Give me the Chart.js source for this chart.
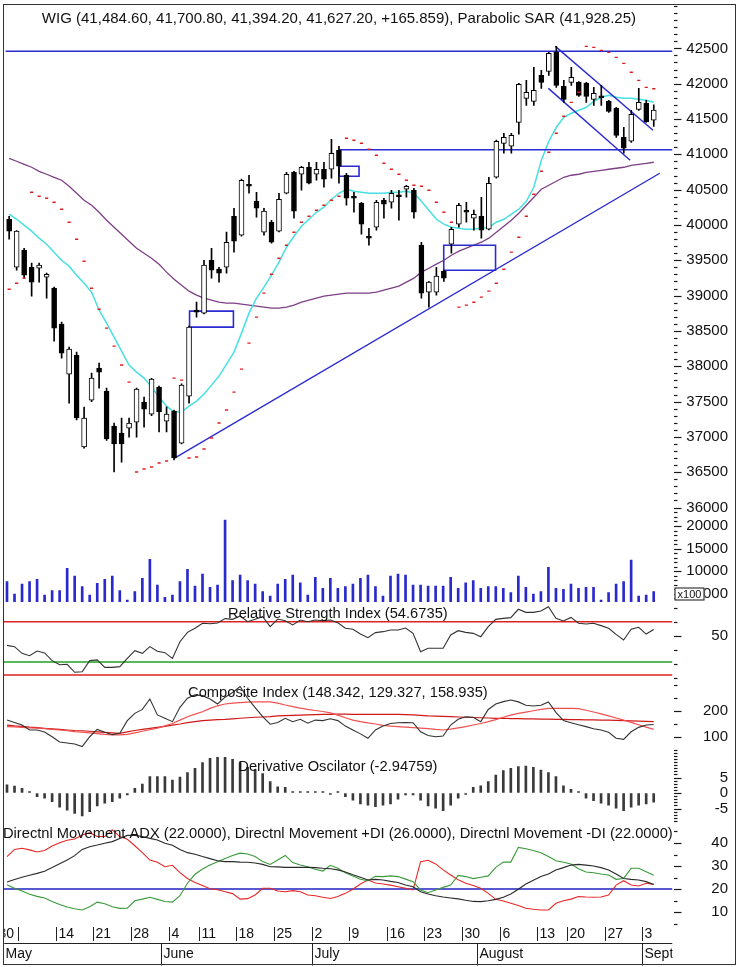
<!DOCTYPE html>
<html><head><meta charset="utf-8">
<script src="https://cdn.jsdelivr.net/npm/chart.js@4.4.1/dist/chart.umd.min.js"></script>
<style>
html,body{margin:0;padding:0;background:#fff;}
#wrap{position:relative;width:739px;height:967px;overflow:hidden;background:#fff;}
#wrap canvas{position:absolute;left:0;top:0;}
#frame{position:absolute;left:3px;top:4px;width:733px;height:961px;box-sizing:border-box;border:1px solid #333;pointer-events:none;}
</style></head><body>
<div id="wrap">
<canvas id="cPrice" width="739" height="967"></canvas>
<canvas id="cVol" width="739" height="967"></canvas>
<canvas id="cRsi" width="739" height="967"></canvas>
<canvas id="cComp" width="739" height="967"></canvas>
<canvas id="cDer" width="739" height="967"></canvas>
<canvas id="cAdx" width="739" height="967"></canvas>
<div id="frame"></div>
</div>
<script>
// ---------------- DATA ----------------
const dates = [
'2012-05-02','2012-05-04','2012-05-07','2012-05-08','2012-05-09','2012-05-10','2012-05-11',
'2012-05-14','2012-05-15','2012-05-16','2012-05-17','2012-05-18',
'2012-05-21','2012-05-22','2012-05-23','2012-05-24','2012-05-25',
'2012-05-28','2012-05-29','2012-05-30','2012-05-31','2012-06-01',
'2012-06-04','2012-06-05','2012-06-06','2012-06-08',
'2012-06-11','2012-06-12','2012-06-13','2012-06-14','2012-06-15',
'2012-06-18','2012-06-19','2012-06-20','2012-06-21','2012-06-22',
'2012-06-25','2012-06-26','2012-06-27','2012-06-28','2012-06-29',
'2012-07-02','2012-07-03','2012-07-04','2012-07-05','2012-07-06',
'2012-07-09','2012-07-10','2012-07-11','2012-07-12','2012-07-13',
'2012-07-16','2012-07-17','2012-07-18','2012-07-19','2012-07-20',
'2012-07-23','2012-07-24','2012-07-25','2012-07-26','2012-07-27',
'2012-07-30','2012-07-31','2012-08-01','2012-08-02','2012-08-03',
'2012-08-06','2012-08-07','2012-08-08','2012-08-09','2012-08-10',
'2012-08-13','2012-08-14','2012-08-16','2012-08-17',
'2012-08-20','2012-08-21','2012-08-22','2012-08-23','2012-08-24',
'2012-08-27','2012-08-28','2012-08-29','2012-08-30','2012-08-31',
'2012-09-03','2012-09-04'];

const openP = [40081,39402,39643,39402,39388,39261,39105,38596,37889,38158,
36857,37521,37974,37649,37153,37054,37125,37210,37493,37323,
37705,37224,37366,36913,37578,38794,38752,39501,39374,39402,
40124,39855,40576,40336,39898,40039,39912,40449,40746,40718,
40817,40718,40789,40789,41057,40704,40407,40308,39830,39968,
40350,40322,40420,40506,40492,39714,39049,39049,39346,39728,
40011,40190,40095,40124,39940,40675,41156,41114,41453,41793,
41750,42118,42175,42443,41963,42019,42019,42005,41779,41815,
41750,41651,41241,41185,41637,41722,41484.6];
const highP = [40124,39920,39671,39459,39459,39318,39120,38625,38271,38200,
37422,37903,38045,37690,37196,37267,37267,37690,37564,37830,
37720,37422,37380,37750,38570,38907,39501,39671,39402,39898,
40237,40650,40704,40463,40237,40067,40449,40746,40760,40830,
40888,40888,40888,41213,41114,40732,40463,40320,39954,40350,
40378,40492,40492,40562,40520,39756,39204,39400,39360,39968,
40308,40322,40210,40393,40675,41200,41298,41298,42005,42047,
42231,42189,42443,42528,42047,42231,42030,42019,41948,41977,
41765,41665,41383,41623,41934,41765,41700.8];
const lowP = [39798,39360,39247,38992,39190,38964,38356,38115,37479,37240,
36840,37500,37691,36950,36503,36644,36998,36998,37139,37300,
37069,37069,36673,36900,37479,38695,38740,39247,39190,39318,
39615,39840,40449,40110,39855,39742,39900,40440,40095,40492,
40580,40633,40534,40661,40591,40279,40180,39869,39714,39926,
40095,40237,40067,40393,40095,38964,38837,39006,39200,39600,
39968,40039,39926,39813,39930,40661,41015,41015,41284,41694,
41694,41934,42118,41948,41736,41977,41821,41736,41694,41694,
41595,41241,41015,41170,41623,41453,41394.2];
const closeP = [39912,39912,39289,39190,39431,39303,38540,38186,38243,37267,
37267,37832,37917,36970,36899,36899,37196,37677,37394,37818,
37352,37323,36701,37733,38554,38766,39431,39360,39318,39756,
39770,40633,40548,40237,40195,39756,40364,40718,40195,40817,
40591,40789,40647,41015,40831,40378,40378,40011,39813,40322,
40294,40449,40400,40548,40180,39035,39190,39275,39247,39940,
40279,40180,40152,39926,40591,41185,41241,41269,41991,41878,
41906,42019,42429,41977,41779,42090,41835,41821,41864,41800,
41609,41269,41086,41566,41736,41461,41627.2];

const parabolicSar = [39091,39176,39247,40463,40407,40378,40322,40223,40039,39798,
39487,39105,38808,38540,38285,38017,37776,36503,36546,36574,
36630,36659,37832,37804,36701,36715,36828,36984,37196,37380,
37634,37960,38328,38695,39035,39303,39530,39714,39898,40039,
40124,40209,40279,40350,40407,41227,41199,41156,41071,40987,
40874,40789,40718,40633,40562,40548,40492,40322,40180,40039,
38837,38865,38907,38978,39063,39176,39374,39615,39827,40124,
40435,40760,41029,41298,41538,41736,41878,42528,42514,42472,
42443,42373,42288,42161,42047,41948,41928.25];

const maShort = [40152,40081,39997,39912,39813,39728,39615,39501,39417,39289,
39176,39049,38794,38610,38412,38214,38016,37917,37832,37705,
37564,37436,37352,37352,37436,37507,37606,37733,37861,38030,
38200,38469,38752,38964,39120,39289,39473,39685,39841,39982,
40081,40180,40251,40364,40449,40506,40477,40463,40449,40449,
40449,40463,40463,40477,40449,40336,40209,40081,40011,39968,
39954,39940,39940,39954,39968,40039,40081,40152,40223,40336,
40534,40916,41185,41383,41524,41581,41623,41666,41750,41807,
41835,41807,41793,41793,41779,41765,41736];
const maLong = [40944,40902,40859,40817,40760,40718,40675,40633,40548,40449,
40350,40279,40180,40067,39968,39869,39770,39671,39600,39530,
39445,39332,39233,39148,39063,39006,38964,38936,38907,38893,
38893,38879,38865,38851,38837,38823,38823,38837,38865,38907,
38936,38964,38992,39006,39021,39035,39035,39035,39035,39049,
39077,39105,39134,39190,39247,39332,39388,39445,39501,39572,
39629,39671,39714,39756,39813,39898,39982,40067,40166,40279,
40393,40506,40562,40619,40675,40704,40718,40746,40760,40774,
40789,40803,40817,40845,40859,40873,40888];

// annotations (blue drawing tools), in index / price units
const resistanceLevel = 42460;
const supportLevel = 41065;
const supportStartIdx = 44;
const trendLineX = [22.07, 86.8];
const trendLineY = [36701, 40732];
const channelUpperX = [72.87, 85.9];
const channelUpperY = [42528, 41340];
const channelLowerX = [71.94, 82.85];
const channelLowerY = [41934, 40916];
const gapBoxX0 = [24.07, 44.02, 57.98];
const gapBoxX1 = [29.92, 46.68, 64.89];
const gapBoxLow = [38554, 40690, 39360];
const gapBoxHigh = [38780, 40831, 39714];

const volume = [7710,4990,7200,7710,8230,4770,5720,5720,10660,8960,
6600,4770,7350,8230,8960,5720,3660,5500,8450,12650,
6980,4260,4770,7710,10440,6750,9400,6460,6980,21320,
7930,9180,7930,7200,5500,4550,7200,8230,9180,7480,
4770,8670,6250,8450,6250,6600,7200,8450,9180,6600,
4550,8960,9400,9180,6980,6980,6750,6750,6750,8670,
6250,7480,7930,6250,6600,6600,6250,5280,8960,6460,
4990,5500,10880,6250,6020,7200,6250,6460,6460,3660,
5280,7200,7710,12490,4550,4770,5500];

const rsi = [43.3,42.4,37.6,35.9,39.3,37.9,32.4,29.5,29.8,24.1,
24.5,32.4,32.9,27.6,27.6,28.1,34.0,39.5,37.6,42.4,
39.1,38.1,34.0,45.9,52.6,55.5,59.1,58.8,59.3,62.4,
61.9,64.3,60.2,61.9,63.8,56.7,62.1,60.9,57.9,61.4,
60.2,61.4,60.9,61.4,59.5,55.5,54.8,51.4,48.8,52.4,
53.1,54.3,54.3,55.7,51.9,38.8,41.2,41.2,41.2,50.7,
53.8,52.6,51.9,49.5,56.7,61.9,62.6,63.1,69.1,66.9,
66.9,67.9,70.9,62.6,60.7,63.3,59.1,58.6,59.1,57.4,
55.5,51.2,47.1,54.8,56.2,51.4,54.6735];
const rsiUpper = 60.2;
const rsiMid = 31.4;
const rsiLower = 22.1;

const compositeIndex = [165,156,146,127,127,119,101,81,77,73,
63,101,129,118,109,114,163,191,206,246,
185,172,159,214,249,262,259,246,227,253,
271,294,249,213,178,149,156,172,159,168,
153,165,163,170,163,142,127,112,95,127,
142,152,155,156,155,120,106,101,104,146,
168,178,176,159,206,227,236,242,235,222,
219,222,235,195,163,155,147,140,132,127,
118,95,91,120,137,146,148.342];
const compositeMaFast = [140,139,137,135,134,132,129,127,124,121,
119,116,113,110,108,108,110,116,122,128,
134,143,152,165,178,188,197,210,220,227,
230,232,234,235,235,235,230,223,217,211,
206,202,198,193,184,174,165,159,154,150,
145,142,140,138,136,134,132,129,127,130,
135,140,146,152,159,167,176,184,191,196,
201,206,210,210,210,210,209,203,196,189,
181,173,165,156,147,138,129.327];
const compositeMaSlow = [146,143,141,138,136,133,131,129,127,125,
124,122,120,118,116,114,120,125,129,133,
137,141,146,150,155,159,163,165,167,168,
170,172,174,176,177,178,181,182,183,184,
185,186,187,187,188,188,187,187,187,187,
187,187,187,186,185,183,181,180,179,178,
177,176,175,174,173,172,172,171,171,170,
170,169,169,168,168,167,167,166,166,165,
165,164,163,162,161,160,158.935];

const derivativeOsc = [2.6,2.2,1.5,0.2,-1.2,-1.7,-2.8,-4.6,-5.5,-6.6,
-7.4,-6.0,-4.2,-3.3,-2.8,-1.7,-0.6,1.5,2.9,5.3,
5.3,5.3,4.2,5.1,6.6,8.0,9.8,11.2,11.5,11.5,
10.9,9.8,8.3,7.6,6.3,3.7,2.0,1.8,0.3,0.1,
0.2,0.1,0.1,-0.1,0.1,-1.2,-2.3,-3.5,-3.9,-4.4,
-3.9,-3.5,-2.0,-0.6,-0.6,-2.3,-4.2,-4.9,-5.7,-3.9,
-1.7,-0.1,1.8,2.3,3.7,5.8,7.2,8.0,8.5,8.7,
8.3,7.4,6.6,5.3,2.3,1.2,0.1,-1.7,-2.5,-3.3,
-3.9,-4.9,-5.7,-4.6,-3.9,-3.5,-2.94759];

const adx = [23.0,24.1,25.1,26.0,26.8,27.7,29.3,31.0,32.6,34.5,
37.2,38.4,39.1,39.9,40.6,42.0,43.3,43.3,42.8,42.0,
41.3,39.9,39.0,37.2,35.8,35.1,34.1,33.2,32.3,31.9,
31.9,31.7,31.6,31.3,30.7,29.7,29.6,29.4,29.4,29.4,
29.4,29.3,29.0,28.8,28.3,27.4,26.2,25.1,23.9,24.2,
23.9,23.3,22.8,21.7,21.0,18.8,17.8,17.1,16.5,16.1,
15.7,15.1,14.6,14.5,14.9,15.5,16.4,17.8,19.9,22.2,
23.8,25.4,26.5,28.3,29.3,30.4,30.7,30.4,30.0,29.3,
28.3,26.5,24.6,24.2,23.9,23.2,22.0];
const plusDI = [21.9,20.3,19.1,17.7,16.8,16.1,14.6,13.3,12.2,11.4,
10.9,12.3,14.3,13.6,12.3,11.6,11.7,14.9,15.6,16.4,
15.5,14.6,14.3,17.1,22.5,26.4,28.7,30.4,31.9,33.3,
34.6,35.6,35.2,34.1,31.9,30.7,32.6,34.6,31.5,30.4,
29.7,28.6,27.8,30.3,29.0,27.1,25.7,24.2,23.6,25.5,
25.4,25.7,25.4,24.3,23.2,19.6,18.4,19.6,20.7,21.7,
25.9,25.4,24.5,25.1,25.7,29.4,31.7,31.7,38.1,37.5,
36.7,35.8,34.1,32.3,31.6,30.9,28.8,27.4,27.1,26.5,
26.1,24.2,24.6,29.0,29.0,27.5,26.0];
const minusDI = [34.1,37.2,37.7,37.0,36.1,36.7,38.7,40.1,41.2,41.7,
43.5,44.5,42.8,42.8,45.7,42.8,41.6,38.8,35.8,32.6,
31.6,29.7,30.3,27.1,24.6,22.8,21.5,20.1,19.7,18.8,
18.0,15.6,15.8,17.4,20.3,20.3,19.1,18.8,19.3,18.8,
17.4,17.1,16.4,15.9,16.7,18.1,19.9,22.2,23.9,22.6,
22.2,21.7,21.0,20.3,19.6,31.9,32.5,30.9,28.3,26.1,
24.0,22.5,21.5,20.3,18.1,15.5,14.8,13.8,12.8,11.6,
11.2,10.9,10.9,13.8,14.9,15.6,16.7,16.5,16.4,16.5,
17.4,21.7,23.6,21.7,21.3,22.5,22.0];
const adxLevel = 20;

const weekTickIndex = [-1,2,7,12,17,22,26,31,36,41,46,51,56,61,66,71,75,80,85];
const weekTickLabel = ['30','','14','21','28','4','11','18','25','2','9','16','23','30','6','13','20','27','3'];
const monthStartIndex = [0,21,41,63,85];
const monthLabel = ['May','June','July','August','September'];

const priceLabels = [36000,36500,37000,37500,38000,38500,39000,39500,40000,40500,41000,41500,42000,42500];
const volumeLabels = [5000,10000,15000,20000];
const rsiLabels = [50];
const compositeLabels = [100,200];
const derivLabels = [-5,0,5];
const adxLabels = [10,20,30,40];

const titles = {
  price: 'WIG (41,484.60, 41,700.80, 41,394.20, 41,627.20, +165.859), Parabolic SAR (41,928.25)',
  rsi: 'Relative Strength Index (54.6735)',
  comp: 'Composite Index (148.342, 129.327, 158.935)',
  der: 'Derivative Oscilator (-2.94759)',
  adx: 'Directnl Movement ADX (22.0000), Directnl Movement +DI (26.0000), Directnl Movement -DI (22.0000)'
};

// ---------------- LAYOUT / STYLE ----------------
const FONT = "'Liberation Sans', Arial, sans-serif";
const W = 739, H = 967;
const PLOT_LEFT = 3.24, AXIS_RIGHT = 728, AXIS_W = 55.5;
const BLUE = '#2b2bd0';
const idx = dates.map((_, i) => i);
const pts = arr => arr.map((v, i) => ({x: i, y: v}));
const seg = (xs, ys) => xs.map((x, k) => ({x, y: ys[k]}));
const isLabel = (labels, v) => labels.some(l => Math.abs(l - v) < 1e-6);

function yScale(min, max, step, labels) {
  return {
    position: 'right', min, max,
    afterBuildTicks: s => {
      const t = [];
      for (let k = Math.ceil(min / step); k * step <= max; k++) t.push({value: Math.round(k * step * 1000) / 1000});
      s.ticks = t;
    },
    afterFit: s => { s.width = AXIS_W; s.paddingTop = 0; s.paddingBottom = 0; },
    border: {display: false},
    grid: {drawOnChartArea: false, drawTicks: false},
    ticks: {
      autoSkip: false, crossAlign: 'far', padding: 0,
      color: '#111', font: {family: FONT, size: 15},
      callback: v => (isLabel(labels, v) ? String(Math.round(v)) : '')
    }
  };
}

// tick marks on the right-hand value axis (minor short, labelled long)
const axisTicksPlugin = {
  id: 'axisTicks',
  afterDraw(chart, args, o) {
    const s = chart.scales.y, a = chart.chartArea, ctx = chart.ctx;
    ctx.save(); ctx.strokeStyle = '#1a1a1a'; ctx.lineWidth = 1.2;
    s.ticks.forEach(t => {
      const y = Math.round(s.getPixelForValue(t.value)) + 0.5;
      const major = isLabel(o.labels, t.value);
      ctx.beginPath(); ctx.moveTo(a.right + 1.5, y); ctx.lineTo(a.right + (major ? 9 : 5), y); ctx.stroke();
    });
    ctx.restore();
  }
};

const titlePlugin = {
  id: 'panelTitle',
  afterDatasetsDraw(chart, args, o) {
    if (!o || !o.text) return;
    const a = chart.chartArea, ctx = chart.ctx;
    ctx.save();
    ctx.font = o.size + 'px ' + FONT;
    ctx.fillStyle = '#111'; ctx.textAlign = 'center'; ctx.textBaseline = 'middle';
    ctx.fillText(o.text, (a.left + a.right) / 2, a.top + o.dy);
    ctx.restore();
  }
};

const x100Plugin = {
  id: 'x100',
  afterDraw(chart) {
    const a = chart.chartArea, ctx = chart.ctx;
    const y = Math.round(chart.scales.y.getPixelForValue(5000));
    ctx.save();
    ctx.fillStyle = '#fff'; ctx.fillRect(a.right + 2, y - 6.5, 30, 13);
    ctx.strokeStyle = '#111'; ctx.lineWidth = 1; ctx.strokeRect(a.right + 2.5, y - 6, 29, 12);
    ctx.fillStyle = '#111'; ctx.font = '11px ' + FONT; ctx.textAlign = 'center'; ctx.textBaseline = 'middle';
    ctx.fillText('x100', a.right + 17, y + 0.5);
    ctx.restore();
  }
};

const dateAxisPlugin = {
  id: 'dateAxis',
  afterDraw(chart) {
    const ctx = chart.ctx, a = chart.chartArea, x = chart.scales.x;
    ctx.save();
    ctx.beginPath(); ctx.rect(a.left + 1, a.bottom, a.right - a.left - 1, 60); ctx.clip();
    ctx.strokeStyle = '#222'; ctx.fillStyle = '#111'; ctx.lineWidth = 1;
    ctx.font = '14px ' + FONT; ctx.textAlign = 'left'; ctx.textBaseline = 'middle';
    weekTickIndex.forEach((d, k) => {
      const px = Math.round(x.getPixelForValue(d - 0.5)) + 0.5;
      ctx.beginPath(); ctx.moveTo(px, a.bottom + 2); ctx.lineTo(px, a.bottom + 16); ctx.stroke();
      ctx.fillText(weekTickLabel[k], px + 2, a.bottom + 9.5);
    });
    const yl = a.bottom + 18.5;
    ctx.beginPath(); ctx.moveTo(a.left, yl); ctx.lineTo(a.right, yl); ctx.stroke();
    monthStartIndex.forEach((d, k) => {
      const px = Math.round(x.getPixelForValue(d - 0.5)) + 0.5;
      ctx.beginPath(); ctx.moveTo(px, yl); ctx.lineTo(px, yl + 22); ctx.stroke();
      ctx.fillText(monthLabel[k], px + 2, yl + 11);
    });
    ctx.restore();
  }
};

function makeChart(id, top, bottom, y, labels, datasets, title, extra) {
  return new Chart(document.getElementById(id), {
    type: 'bar',
    data: {datasets},
    options: {
      responsive: false, animation: false, devicePixelRatio: 1, events: [],
      layout: {padding: {left: PLOT_LEFT, right: W - AXIS_RIGHT, top: top, bottom: H - bottom}},
      scales: {
        x: {type: 'linear', min: -0.5, max: 88.5, display: false, offset: false},
        y
      },
      plugins: {legend: {display: false}, tooltip: {enabled: false}, panelTitle: title, axisTicks: {labels}}
    },
    plugins: [titlePlugin, axisTicksPlugin].concat(extra || [])
  });
}

const lineDs = (data, color, width, order, extra) => Object.assign({
  type: 'line', data, borderColor: color, borderWidth: width, pointRadius: 0,
  tension: 0, fill: false, order, spanGaps: true
}, extra || {});

// ---------------- PRICE PANEL ----------------
const boxes = gapBoxX0.map((x0, k) => lineDs(
  [{x: x0, y: gapBoxLow[k]}, {x: gapBoxX1[k], y: gapBoxLow[k]}, {x: gapBoxX1[k], y: gapBoxHigh[k]},
   {x: x0, y: gapBoxHigh[k]}, {x: x0, y: gapBoxLow[k]}], BLUE, 1.6, 3));

makeChart('cPrice', 5, 510, yScale(35965.3, 43108.2, 100, priceLabels), priceLabels, [
  {type: 'line', data: pts(parabolicSar), showLine: false, pointStyle: 'line', pointRadius: 1.6,
   pointBorderWidth: 1.4, pointBorderColor: '#e01c1c', pointBackgroundColor: '#e01c1c', order: 0},
  {type: 'bar', data: idx.map(i => ({x: i, y: [openP[i], closeP[i]]})),
   backgroundColor: idx.map(i => closeP[i] >= openP[i] ? '#ffffff' : '#000000'),
   borderColor: '#000', borderWidth: 1, borderSkipped: false, barThickness: 5, grouped: false,
   minBarLength: 2, order: 1},
  {type: 'bar', data: idx.map(i => ({x: i, y: [lowP[i], highP[i]]})),
   backgroundColor: '#000', borderWidth: 0, barThickness: 1, grouped: false, order: 2},
  lineDs([{x: -0.5, y: resistanceLevel}, {x: 88.5, y: resistanceLevel}], BLUE, 1.6, 3),
  lineDs([{x: supportStartIdx, y: supportLevel}, {x: 88.5, y: supportLevel}], BLUE, 1.6, 3),
  lineDs(seg(trendLineX, trendLineY), BLUE, 1.4, 3),
  lineDs(seg(channelUpperX, channelUpperY), BLUE, 1.4, 3),
  lineDs(seg(channelLowerX, channelLowerY), BLUE, 1.4, 3),
  ...boxes,
  lineDs(pts(maShort), '#48e0e0', 1.5, 4),
  lineDs(pts(maLong), '#7d3f86', 1.3, 5)
], {text: titles.price, size: 15, dy: 13});

// ---------------- VOLUME ----------------
makeChart('cVol', 510, 602, yScale(3223, 23532, 1000, volumeLabels), volumeLabels, [
  {type: 'bar', data: pts(volume), backgroundColor: '#2a2acc', barThickness: 2, grouped: false, order: 1}
], null, [x100Plugin]);

// ---------------- RSI ----------------
makeChart('cRsi', 602, 680, yScale(18.57, 74.29, 10, rsiLabels), rsiLabels, [
  lineDs(pts(rsi), '#333', 1.1, 1),
  lineDs([{x: -0.5, y: rsiUpper}, {x: 88.5, y: rsiUpper}], '#dd2222', 1.5, 2),
  lineDs([{x: -0.5, y: rsiMid}, {x: 88.5, y: rsiMid}], '#22a022', 1.5, 2),
  lineDs([{x: -0.5, y: rsiLower}, {x: 88.5, y: rsiLower}], '#dd2222', 1.5, 2)
], {text: titles.rsi, size: 14.7, dy: 12});

// ---------------- COMPOSITE ----------------
makeChart('cComp', 680, 752, yScale(42.3, 319.2, 50, compositeLabels), compositeLabels, [
  lineDs(pts(compositeIndex), '#333', 1.1, 1),
  lineDs(pts(compositeMaFast), '#f05050', 1.2, 2),
  lineDs(pts(compositeMaSlow), '#d01818', 1.2, 3)
], {text: titles.comp, size: 14.7, dy: 13});

// ---------------- DERIVATIVE OSC ----------------
makeChart('cDer', 752, 822, yScale(-9.35, 13.23, 1, derivLabels), derivLabels, [
  {type: 'bar', data: pts(derivativeOsc), backgroundColor: '#3a3a3a', barThickness: 2, grouped: false,
   minBarLength: 1.5, order: 1}
], {text: titles.der, size: 14.7, dy: 15});

// ---------------- ADX ----------------
makeChart('cAdx', 822, 925, yScale(4.35, 49.13, 5, adxLabels), adxLabels, [
  lineDs(pts(adx), '#2a2a2a', 1.1, 1),
  lineDs(pts(plusDI), '#3a9a3a', 1.1, 2),
  lineDs(pts(minusDI), '#e82828', 1.1, 3),
  lineDs([{x: -0.5, y: adxLevel}, {x: 88.5, y: adxLevel}], '#2020c0', 1.5, 4)
], {text: titles.adx, size: 14.7, dy: 12}, [dateAxisPlugin]);
</script>
</body></html>
